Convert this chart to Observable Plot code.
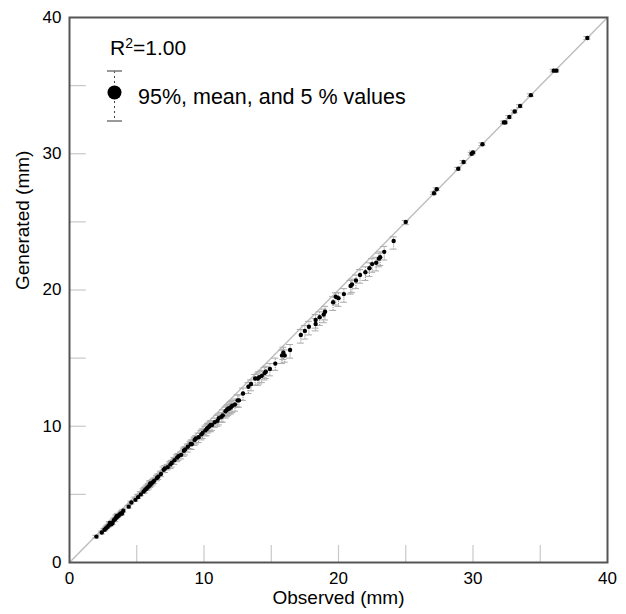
<!DOCTYPE html>
<html>
<head>
<meta charset="utf-8">
<script src="https://cdn.jsdelivr.net/npm/d3@7"></script>
<script src="https://cdn.jsdelivr.net/npm/@observablehq/plot@0.6"></script>
<style>
  html, body { margin: 0; padding: 0; background: #fff; }
  #wrap { position: relative; width: 626px; height: 614px; font-family: "Liberation Sans", Arial, sans-serif; }
  #legend { position: absolute; left: 0; top: 0; pointer-events: none; }
</style>
</head>
<body>
<div id="wrap"></div>
<script>
// Observed mean (mm)
const observed = [2.0,2.4,2.6,2.7,2.8,2.9,3.0,3.0,3.1,3.2,3.3,3.4,3.5,3.5,3.6,3.7,3.8,3.9,4.0,4.4,
  4.6,4.9,5.1,5.3,5.5,5.6,5.7,5.8,5.9,6.0,6.0,6.1,6.2,6.3,6.5,6.6,6.8,7.0,7.1,7.3,
  7.5,7.6,7.8,8.0,8.1,8.3,8.5,8.6,8.8,9.0,9.1,9.3,9.4,9.6,9.8,9.9,10.1,10.2,10.3,10.4,
  10.5,10.6,10.8,11.0,11.1,11.3,11.4,11.6,11.7,11.8,11.9,12.0,12.1,12.3,12.5,12.6,12.9,13.3,13.5,13.8,
  14.0,14.1,14.3,14.5,14.6,14.9,15.3,15.8,15.9,16.0,16.4,17.2,17.5,17.8,18.3,18.3,18.6,18.9,19.0,19.6,
  19.8,20.0,20.4,20.9,21.0,21.3,21.6,22.0,22.3,22.5,22.8,23.0,23.1,23.4,24.1,25.0,27.1,27.3,28.9,29.3,
  29.9,30.0,30.7,32.3,32.4,32.7,33.1,33.5,34.3,36.0,36.2,38.5];
// Generated mean (mm)
const generated = [1.9,2.2,2.4,2.5,2.6,2.7,2.8,2.9,2.8,2.9,3.1,3.2,3.3,3.4,3.4,3.5,3.6,3.6,3.8,4.1,
  4.4,4.6,4.8,5.0,5.2,5.3,5.4,5.5,5.6,5.7,5.8,5.8,5.9,6.0,6.2,6.3,6.5,6.8,6.9,7.0,
  7.2,7.3,7.5,7.7,7.8,7.9,8.2,8.3,8.5,8.7,8.7,9.0,9.1,9.2,9.4,9.5,9.7,9.8,9.9,10.0,
  10.1,10.1,10.3,10.4,10.6,10.7,10.8,11.1,11.2,11.3,11.3,11.4,11.5,11.6,11.9,11.9,12.4,12.9,13.1,13.5,
  13.5,13.6,13.7,13.9,14.0,14.2,14.6,15.2,15.4,15.2,15.6,16.7,17.0,17.3,17.5,17.8,18.0,18.2,18.4,19.1,
  19.5,19.4,19.7,20.3,20.4,20.7,21.1,21.3,21.6,21.9,22.0,22.3,22.4,22.8,23.6,25.0,27.1,27.4,28.9,29.4,
  30.0,30.1,30.7,32.3,32.3,32.7,33.1,33.5,34.3,36.1,36.1,38.5];
// 5 % value (mm)
const p5 = [1.8,2.1,2.3,2.4,2.5,2.6,2.7,2.8,2.7,2.8,3.0,3.0,3.2,3.3,3.3,3.4,3.5,3.5,3.7,4.0,
  4.3,4.5,4.7,4.9,5.1,5.1,5.3,5.3,5.4,5.5,5.6,5.6,5.7,5.8,6.0,6.1,6.3,6.6,6.6,6.8,
  6.9,7.0,7.2,7.4,7.5,7.6,7.8,7.9,8.1,8.3,8.3,8.6,8.7,8.8,9.0,9.1,9.3,9.3,9.5,9.6,
  9.6,9.7,9.9,10.0,10.1,10.3,10.3,10.6,10.7,10.8,10.9,10.9,11.0,11.1,11.4,11.4,11.9,12.4,12.6,13.0,
  13.0,13.1,13.2,13.4,13.5,13.7,14.1,14.6,14.9,14.7,15.0,16.1,16.4,16.7,17.0,17.2,17.4,17.6,17.8,18.5,
  18.9,18.8,19.1,19.7,19.8,20.1,20.5,20.7,21.0,21.3,21.4,21.7,21.8,22.2,23.0,24.8,27.0,27.3,28.8,29.3,
  29.9,30.0,30.6,32.2,32.2,32.6,33.0,33.4,34.2,36.0,36.0,38.4];
// 95 % value (mm)
const p95 = [2.0,2.3,2.5,2.6,2.7,2.8,2.9,3.0,3.0,3.1,3.2,3.3,3.4,3.5,3.6,3.6,3.7,3.8,3.9,4.2,
  4.5,4.8,5.0,5.2,5.4,5.5,5.6,5.7,5.8,5.9,6.0,6.0,6.1,6.2,6.4,6.5,6.7,7.0,7.1,7.2,
  7.4,7.5,7.7,7.9,8.0,8.1,8.4,8.5,8.7,8.9,9.0,9.2,9.3,9.5,9.7,9.8,10.0,10.1,10.2,10.3,
  10.4,10.4,10.6,10.8,10.9,11.0,11.2,11.4,11.5,11.6,11.7,11.8,11.9,12.0,12.3,12.3,12.8,13.2,13.4,13.8,
  13.9,14.0,14.1,14.3,14.4,14.6,15.0,15.6,15.8,15.6,16.0,17.1,17.4,17.7,17.9,18.2,18.4,18.6,18.8,19.5,
  19.8,19.8,20.1,20.7,20.8,21.1,21.5,21.7,22.0,22.3,22.4,22.7,22.8,23.2,23.9,25.1,27.2,27.5,29.0,29.5,
  30.1,30.2,30.8,32.4,32.4,32.8,33.2,33.6,34.4,36.2,36.2,38.6];

const tickLabels = [0, 10, 20, 30, 40];
const innerTicks = [5, 10, 15, 20, 25, 30, 35];
const oneToOne = [0, 40];
const r2Text = "1.00";
const legendText = "95%, mean, and 5 % values";

const rows = observed.map((o, i) => ({obs: o, gen: generated[i], lo: p5[i], hi: p95[i]}));

const font = "'Liberation Sans', Arial, sans-serif";
const tickLen = 1.25; // in data units, ~17px
const capHalf = 0.26;

const chart = Plot.plot({
  width: 626,
  height: 614,
  marginLeft: 69,
  marginRight: 19,
  marginTop: 17,
  marginBottom: 52,
  x: {domain: [0, 40]},
  y: {domain: [0, 40]},
  style: {fontFamily: font, fontSize: "17px", color: "#000", background: "#fff", overflow: "visible"},
  marks: [
    Plot.ruleX(innerTicks, {x: d => d, y1: 0, y2: tickLen, stroke: "#c8c8c8", strokeWidth: 1.2}),
    Plot.ruleY(innerTicks, {y: d => d, x1: 0, x2: tickLen, stroke: "#c8c8c8", strokeWidth: 1.2}),
    Plot.line(oneToOne, {x: d => d, y: d => d, stroke: "#bdbdbd", strokeWidth: 1.4}),
    Plot.ruleX(rows, {x: "obs", y1: "lo", y2: "hi", stroke: "#666", strokeWidth: 0.8, strokeDasharray: "1,1"}),
    Plot.ruleY(rows, {y: "lo", x1: d => d.obs - capHalf, x2: d => d.obs + capHalf, stroke: "#aaa", strokeWidth: 1}),
    Plot.ruleY(rows, {y: "hi", x1: d => d.obs - capHalf, x2: d => d.obs + capHalf, stroke: "#aaa", strokeWidth: 1}),
    Plot.dot(rows, {x: "obs", y: "gen", r: 2.2, fill: "#000", stroke: "none"}),
    Plot.frame({stroke: "#555", strokeWidth: 2}),
    Plot.axisX({ticks: tickLabels, tickSize: 0, tickPadding: 9, label: null, fontSize: 17}),
    Plot.axisY({ticks: tickLabels, tickSize: 0, tickPadding: 8, label: null, fontSize: 17}),
    Plot.text(["Observed (mm)"], {frameAnchor: "bottom", dy: 41, fontSize: 19, text: d => d}),
    Plot.text(["Generated (mm)"], {frameAnchor: "left", dx: -47, rotate: -90, fontSize: 19, text: d => d})
  ]
});

const wrap = document.getElementById("wrap");
wrap.appendChild(chart);

// legend overlay
const lg = d3.select(wrap).append("svg")
  .attr("id", "legend")
  .attr("width", 626).attr("height", 614)
  .style("font-family", font);

const r2 = lg.append("text").attr("x", 110).attr("y", 55).attr("font-size", 21).attr("fill", "#000");
r2.append("tspan").text("R");
r2.append("tspan").attr("font-size", 14).attr("dy", -7).text("2");
r2.append("tspan").attr("dy", 7).text("=" + r2Text);

lg.append("line").attr("x1", 114.5).attr("x2", 114.5).attr("y1", 71).attr("y2", 121)
  .attr("stroke", "#444").attr("stroke-width", 1).attr("stroke-dasharray", "2,3");
lg.append("line").attr("x1", 107).attr("x2", 122).attr("y1", 71).attr("y2", 71).attr("stroke", "#777").attr("stroke-width", 1.5);
lg.append("line").attr("x1", 107).attr("x2", 122).attr("y1", 121).attr("y2", 121).attr("stroke", "#777").attr("stroke-width", 1.5);
lg.append("circle").attr("cx", 114.5).attr("cy", 92.5).attr("r", 7).attr("fill", "#000");
lg.append("text").attr("x", 138).attr("y", 104).attr("font-size", 21.5).attr("fill", "#000").text(legendText);
</script>
</body>
</html>
